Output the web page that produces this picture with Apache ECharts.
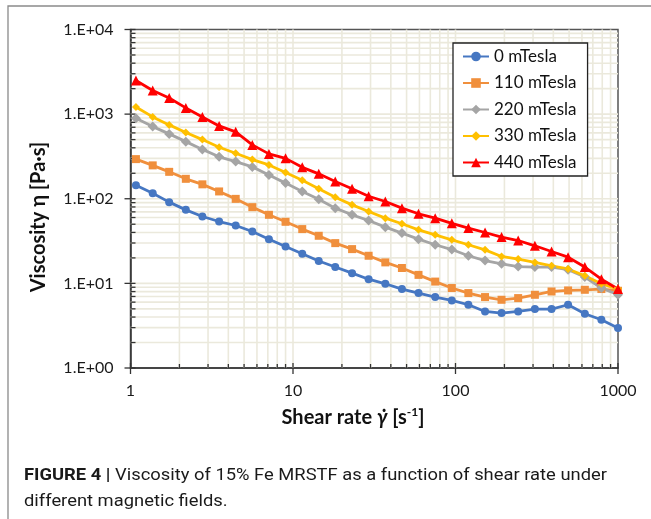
<!DOCTYPE html>
<html>
<head>
<meta charset="utf-8">
<script src="https://cdn.jsdelivr.net/npm/echarts@6/dist/echarts.min.js"></script>
<style>
  html, body { margin: 0; padding: 0; background: #ffffff; }
  #chart { width: 651px; height: 519px; }
</style>
</head>
<body>
<div id="chart"></div>
<script>
// Shear rate sweep points [1/s]
const shearRate = [1.08, 1.37, 1.73, 2.19, 2.77, 3.51, 4.44, 5.62, 7.11, 9.00,
                   11.4, 14.4, 18.2, 23.1, 29.2, 37.0, 46.8, 59.2, 75.0, 94.9,
                   120, 152, 192, 243, 308, 390, 493, 625, 790, 1000];

// Viscosity [Pa·s] at each magnetic field strength
const visc0mT = [144, 116, 91.2, 73.9, 61.7, 53.8, 48.3, 41.0, 33.3, 27.3,
                 22.4, 18.4, 15.6, 13.2, 11.2, 9.89, 8.57, 7.68, 6.89, 6.28,
                 5.59, 4.66, 4.46, 4.66, 4.97, 4.97, 5.59, 4.38, 3.72, 2.97];
const visc110mT = [294, 248, 208, 172, 148, 122, 99.7, 79.6, 64.6, 53.4,
                   43.8, 36.5, 29.9, 25.4, 21.2, 17.7, 15.2, 12.6, 10.5, 8.81,
                   7.68, 6.89, 6.40, 6.70, 7.33, 8.02, 8.25, 8.40, 8.57, 8.18];
const visc220mT = [895, 712, 584, 473, 383, 313, 275, 238, 191, 153,
                   122, 98.9, 77.4, 64.6, 55.3, 46.2, 39.3, 33.3, 28.6, 25.1,
                   21.2, 18.6, 17.0, 15.8, 15.6, 15.6, 14.5, 11.9, 8.81, 7.33];
const visc330mT = [1216, 927, 746, 608, 500, 406, 345, 290, 251, 204,
                   165, 131, 104, 84.7, 70.6, 59.0, 50.6, 42.9, 37.5, 32.7,
                   28.6, 24.9, 20.8, 19.4, 17.7, 16.1, 14.8, 12.3, 9.9, 8.57];
const visc440mT = [2500, 1905, 1553, 1184, 927, 726, 617, 433, 339, 300,
                   235, 197, 160, 131, 107, 92.7, 77.4, 66.4, 59.0, 51.2,
                   45.0, 39.9, 35.2, 32.1, 27.8, 23.8, 20.4, 15.6, 11.2, 8.57];

const seriesNames = ['0 mTesla', '110 mTesla', '220 mTesla', '330 mTesla', '440 mTesla'];

// Axis tick labels, one per decade
const xTickLabels = ['1', '10', '100', '1000'];
const yTickLabels = ['1.E+00', '1.E+01', '1.E+02', '1.E+03', '1.E+04'];

const X_MIN = 1, X_MAX = 1000, Y_MIN = 1, Y_MAX = 10000;
const GRID_COLOR = '#ebe9dc';
const AXIS_COLOR = '#333333';
const CHART_FONT = 'Lato, "Open Sans", sans-serif';
const CAPTION_FONT = 'Roboto, "Liberation Sans", sans-serif';

// Decade and 2..9 sub-decade positions on a log axis
function logGridValues(lo, hi) {
  const out = [];
  for (let d = lo; d < hi; d *= 10) {
    for (let m = 1; m <= 9; m++) out.push([d * m, m === 1 ? 1 : 0]);
  }
  out.push([hi, 1]);
  return out;
}

const chart = echarts.init(document.getElementById('chart'), null, { renderer: 'canvas' });

function pairs(ys) { return shearRate.map((x, i) => [x, ys[i]]); }

const seriesStyles = [
  { color: '#4677c2', symbol: 'circle', size: 8 },
  { color: '#f08f3c', symbol: 'rect', size: 8 },
  { color: '#a5a5a5', symbol: 'diamond', size: 10 },
  { color: '#ffc000', symbol: 'diamond', size: 8 },
  { color: '#ff0000', symbol: 'triangle', size: 10 }
];
const seriesData = [visc0mT, visc110mT, visc220mT, visc330mT, visc440mT];

const lineSeries = seriesNames.map((name, i) => ({
  name: name,
  type: 'line',
  data: pairs(seriesData[i]),
  symbol: seriesStyles[i].symbol,
  symbolSize: seriesStyles[i].size,
  showAllSymbol: true,
  clip: false,
  z: 3,
  itemStyle: { color: seriesStyles[i].color },
  lineStyle: { color: seriesStyles[i].color, width: 2.8 }
}));

// Vertical grid lines plus x-axis ticks
const vGridSeries = {
  type: 'custom',
  z: 1,
  silent: true,
  clip: false,
  encode: { x: 0, y: 1 },
  data: logGridValues(X_MIN, X_MAX).map(v => [v[0], Y_MIN, v[1]]),
  renderItem: function (params, api) {
    const x = api.value(0), major = api.value(2);
    const p0 = api.coord([x, Y_MIN]);
    const p1 = api.coord([x, Y_MAX]);
    const children = [];
    if (x > X_MIN && x < X_MAX) {
      children.push({ type: 'line', shape: { x1: p0[0], y1: p0[1], x2: p1[0], y2: p1[1] },
        style: { stroke: GRID_COLOR, lineWidth: 1.6 } });
    }
    children.push({ type: 'line', z2: 10,
      shape: major ? { x1: p0[0], y1: p0[1] - 5, x2: p0[0], y2: p0[1] + 6 }
                   : { x1: p0[0], y1: p0[1] - 4, x2: p0[0], y2: p0[1] },
      style: { stroke: AXIS_COLOR, lineWidth: 1.3 } });
    return { type: 'group', children: children };
  }
};

// Horizontal grid lines plus y-axis ticks
const hGridSeries = {
  type: 'custom',
  z: 1,
  silent: true,
  clip: false,
  encode: { x: 0, y: 1 },
  data: logGridValues(Y_MIN, Y_MAX).map(v => [X_MIN, v[0], v[1]]),
  renderItem: function (params, api) {
    const y = api.value(1), major = api.value(2);
    const p0 = api.coord([X_MIN, y]);
    const p1 = api.coord([X_MAX, y]);
    const children = [];
    if (y > Y_MIN && y < Y_MAX) {
      children.push({ type: 'line', shape: { x1: p0[0], y1: p0[1], x2: p1[0], y2: p1[1] },
        style: { stroke: GRID_COLOR, lineWidth: 1.6 } });
    }
    children.push({ type: 'line', z2: 10,
      shape: major ? { x1: p0[0] - 6, y1: p0[1], x2: p0[0] + 5, y2: p0[1] }
                   : { x1: p0[0], y1: p0[1], x2: p0[0] + 5, y2: p0[1] },
      style: { stroke: AXIS_COLOR, lineWidth: 1.3 } });
    return { type: 'group', children: children };
  }
};

// Caption: fit the condensed figure caption across the frame width
const capBold = 'FIGURE 4 |';
const capLine1 = ' Viscosity of 15% Fe MRSTF as a function of shear rate under';
const capLine2 = 'different magnetic fields.';
const measureCtx = document.createElement('canvas').getContext('2d');
measureCtx.font = 'bold 17px ' + CAPTION_FONT;
const wBold = measureCtx.measureText(capBold).width;
measureCtx.font = '17px ' + CAPTION_FONT;
const wLine1 = measureCtx.measureText(capLine1).width;
const capScale = 583 / (wBold + wLine1);

chart.setOption({
  backgroundColor: '#ffffff',
  animation: false,
  grid: {
    left: 130.5, top: 29.5, right: 33, bottom: 151,
    show: true, borderColor: '#555555', borderWidth: 1.5, backgroundColor: '#ffffff'
  },
  legend: {
    orient: 'vertical',
    left: 453, top: 43,
    data: seriesNames,
    itemWidth: 26, itemHeight: 12, itemGap: 9.5,
    padding: [5, 11, 5, 9],
    borderColor: '#222222', borderWidth: 1.3, backgroundColor: '#ffffff',
    textStyle: { fontFamily: CHART_FONT, fontSize: 17, color: '#111111', lineHeight: 17 }
  },
  xAxis: {
    type: 'log', logBase: 10, min: X_MIN, max: X_MAX,
    axisLine: { show: true, lineStyle: { color: AXIS_COLOR, width: 1.5 } },
    axisTick: { show: false },
    splitLine: { show: false },
    minorSplitLine: { show: false },
    axisLabel: {
      margin: 15, fontFamily: CHART_FONT, fontSize: 16, color: '#1a1a1a',
      formatter: function (v) { return xTickLabels[Math.round(Math.log10(v))] || ''; }
    }
  },
  yAxis: {
    type: 'log', logBase: 10, min: Y_MIN, max: Y_MAX,
    axisLine: { show: true, lineStyle: { color: AXIS_COLOR, width: 1.5 } },
    axisTick: { show: false },
    splitLine: { show: false },
    axisLabel: {
      margin: 17, fontFamily: CHART_FONT, fontSize: 16, color: '#1a1a1a',
      formatter: function (v) { return yTickLabels[Math.round(Math.log10(v))] || ''; }
    }
  },
  graphic: [
    {
      type: 'rect', z: -10, silent: true,
      shape: { x: 8, y: 6, width: 700, height: 600 },
      style: { fill: 'none', stroke: '#8a8a8a', lineWidth: 1.3 }
    },
    {
      type: 'text', x: 353, y: 418, silent: true,
      style: {
        text: '{a|Shear rate }{g|γ̇}{a| [s}{s|-1}{a|]}',
        align: 'center', verticalAlign: 'middle',
        rich: {
          a: { fontFamily: CHART_FONT, fontWeight: 'bold', fontSize: 20, lineHeight: 24, fill: '#111' },
          g: { fontFamily: CHART_FONT, fontWeight: 'bold', fontStyle: 'italic', fontSize: 20, lineHeight: 24, fill: '#111' },
          s: { fontFamily: CHART_FONT, fontWeight: 'bold', fontSize: 12, lineHeight: 24, verticalAlign: 'top', fill: '#111' }
        }
      }
    },
    {
      type: 'text', x: 39, y: 217, rotation: Math.PI / 2, silent: true,
      style: {
        text: 'Viscosity η [Pa·s]',
        align: 'center', verticalAlign: 'middle',
        font: 'bold 20px ' + CHART_FONT, fill: '#111'
      }
    },
    {
      type: 'text', x: 24, y: 476, scaleX: capScale, silent: true,
      style: {
        text: '{b|' + capBold + '}{r|' + capLine1 + '}',
        align: 'left', verticalAlign: 'middle',
        rich: {
          b: { fontFamily: CAPTION_FONT, fontWeight: 'bold', fontSize: 17, fill: '#1a1a1a' },
          r: { fontFamily: CAPTION_FONT, fontSize: 17, fill: '#1a1a1a' }
        }
      }
    },
    {
      type: 'text', x: 24, y: 502, scaleX: capScale, silent: true,
      style: {
        text: capLine2,
        align: 'left', verticalAlign: 'middle',
        font: '17px ' + CAPTION_FONT, fill: '#1a1a1a'
      }
    }
  ],
  series: [vGridSeries, hGridSeries].concat(lineSeries)
});
</script>
</body>
</html>
